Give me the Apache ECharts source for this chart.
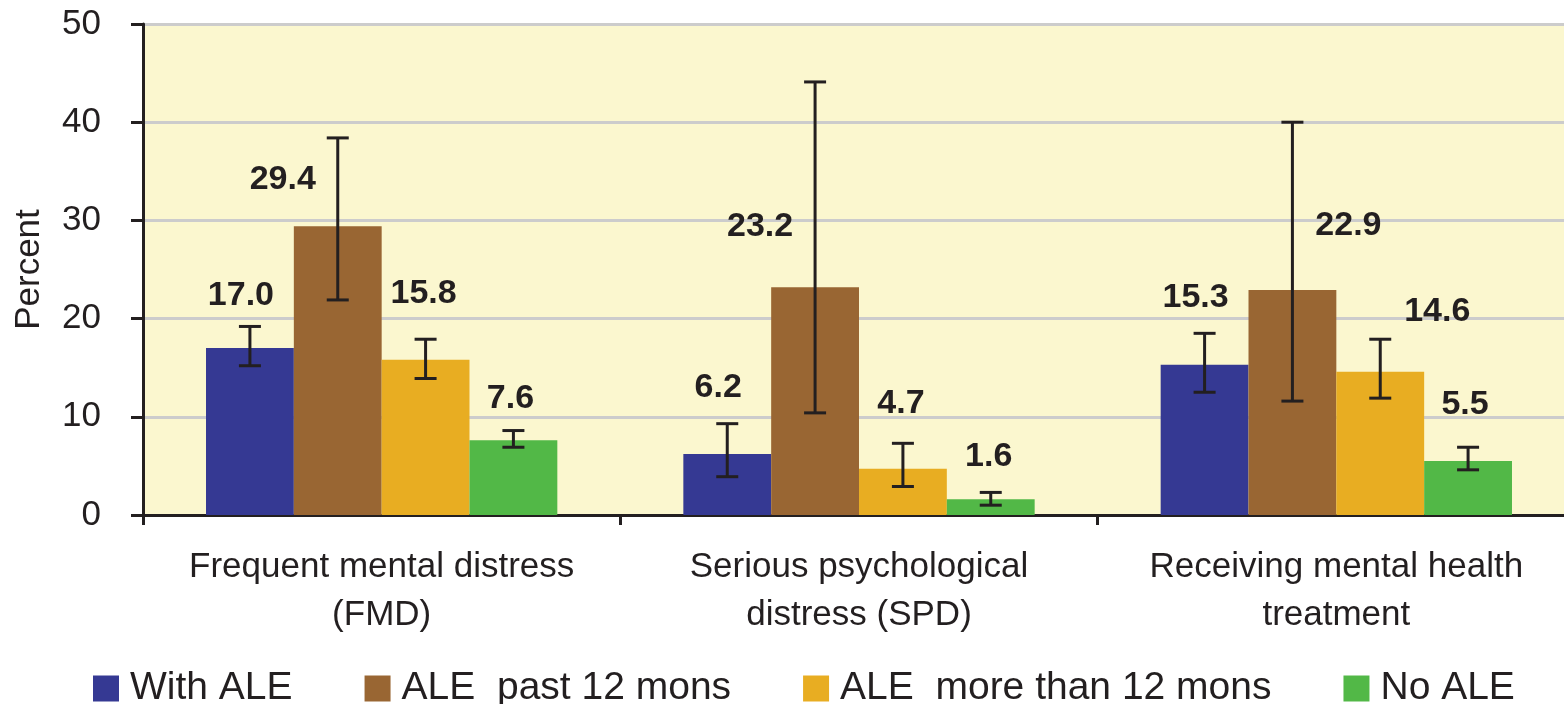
<!DOCTYPE html>
<html>
<head>
<meta charset="utf-8">
<script src="https://cdn.jsdelivr.net/npm/echarts@6/dist/echarts.min.js"></script>
<style>html,body{margin:0;padding:0;background:#fff}#chart{width:1564px;height:704px}</style>
</head>
<body>
<div id="chart"></div>
<script>
const categories = ['Frequent mental distress\n(FMD)', 'Serious psychological\ndistress (SPD)', 'Receiving mental health\ntreatment'];
const seriesNames = ['With ALE', 'ALE  past 12 mons', 'ALE  more than 12 mons', 'No ALE'];
const withALE = [17.0, 6.2, 15.3];
const alePast12 = [29.4, 23.2, 22.9];
const aleMore12 = [15.8, 4.7, 14.6];
const noALE = [7.6, 1.6, 5.5];
const withALELow = [15.2, 3.9, 12.5];
const withALEHigh = [19.2, 9.3, 18.5];
const alePast12Low = [21.9, 10.4, 11.6];
const alePast12High = [38.4, 44.1, 40.0];
const aleMore12Low = [13.9, 2.9, 11.9];
const aleMore12High = [17.9, 7.3, 17.9];
const noALELow = [6.9, 1.0, 4.6];
const noALEHigh = [8.6, 2.3, 6.9];
const yTicks = [0, 10, 20, 30, 40, 50];

// styling: label offsets [dx, dy] in px from bar top centre, per series per category
const labelOffsets = [
  [[-9, -52], [-9, -66], [-9, -67]],
  [[-55, -47], [-55, -61], [56, -64]],
  [[-2, -66], [-2, -65], [57, -60]],
  [[-3, -42], [-2, -43], [-3, -56]]
];
const colors = ['#353993', '#996633', '#E8AD22', '#52B847'];
const values = [withALE, alePast12, aleMore12, noALE];
const lows = [withALELow, alePast12Low, aleMore12Low, noALELow];
const highs = [withALEHigh, alePast12High, aleMore12High, noALEHigh];
const BAR_FRAC = 0.184;
const FONT = '"Liberation Sans", Arial, Helvetica, sans-serif';
const INK = '#231F20';

const errData = [];
for (let s = 0; s < 4; s++) {
  for (let c = 0; c < categories.length; c++) {
    errData.push([c, s, values[s][c], lows[s][c], highs[s][c]]);
  }
}

const chart = echarts.init(document.getElementById('chart'), null, {renderer: 'canvas'});
const barSeries = seriesNames.map((name, s) => ({
  name: name,
  type: 'bar',
  data: values[s],
  barWidth: (BAR_FRAC * 100) + '%',
  barGap: '0%',
  itemStyle: {color: colors[s]},
  emphasis: {disabled: true},
  z: 2
}));

const errSeries = {
  type: 'custom',
  data: errData,
  encode: {x: 0, y: [2, 3, 4]},
  z: 5,
  silent: true,
  renderItem: function (params, api) {
    const c = api.value(0), s = api.value(1);
    const v = api.value(2), lo = api.value(3), hi = api.value(4);
    const band = api.size([1, 0])[0];
    const bw = band * BAR_FRAC;
    const cx = api.coord([c, 0])[0] + (s - 1.5) * bw;
    const yv = api.coord([c, v])[1];
    const ylo = api.coord([c, lo])[1];
    const yhi = api.coord([c, hi])[1];
    const cap = 11;
    const st = {stroke: INK, lineWidth: 3};
    const off = labelOffsets[s][c];
    return {
      type: 'group',
      children: [
        {type: 'line', shape: {x1: cx, y1: ylo, x2: cx, y2: yhi}, style: st},
        {type: 'line', shape: {x1: cx - cap, y1: yhi, x2: cx + cap, y2: yhi}, style: st},
        {type: 'line', shape: {x1: cx - cap, y1: ylo, x2: cx + cap, y2: ylo}, style: st},
        {type: 'text', x: cx + off[0], y: yv + off[1],
          style: {text: v.toFixed(1), fill: INK, font: 'bold 34px ' + FONT, textAlign: 'center', textVerticalAlign: 'middle'}}
      ]
    };
  }
};

chart.setOption({
  animation: false,
  backgroundColor: '#ffffff',
  textStyle: {fontFamily: FONT},
  color: colors,
  grid: {left: 143, top: 24, width: 1432, height: 491, show: true, backgroundColor: '#FBF7CF', borderWidth: 0, containLabel: false, outerBoundsMode: 'none'},
  legend: {
    left: 93, top: 669, padding: 0, itemWidth: 26, itemHeight: 26, itemGap: 72, icon: 'rect',
    data: seriesNames,
    selectedMode: false,
    textStyle: {fontSize: 39, color: INK, fontFamily: FONT, padding: [0, 0, 0, 6]}
  },
  xAxis: {
    type: 'category',
    data: categories,
    axisLine: {lineStyle: {color: INK, width: 3}},
    axisTick: {show: true, length: 10, lineStyle: {color: INK, width: 3}},
    axisLabel: {fontSize: 35, color: INK, lineHeight: 48, margin: 28, fontFamily: FONT, interval: 0, hideOverlap: false},
    splitLine: {show: false}
  },
  yAxis: {
    type: 'value',
    min: yTicks[0], max: yTicks[yTicks.length - 1], interval: 10,
    name: 'Percent', nameLocation: 'middle', nameGap: 96, nameRotate: 90,
    nameTextStyle: {fontSize: 35, color: INK, fontFamily: FONT},
    axisLine: {show: true, lineStyle: {color: INK, width: 3}},
    axisTick: {show: true, length: 12, lineStyle: {color: INK, width: 3}},
    axisLabel: {fontSize: 35, color: INK, margin: 42, fontFamily: FONT},
    splitLine: {show: true, lineStyle: {color: '#CCCCCC', width: 3}}
  },
  series: barSeries.concat([errSeries])
});
</script>
</body>
</html>
